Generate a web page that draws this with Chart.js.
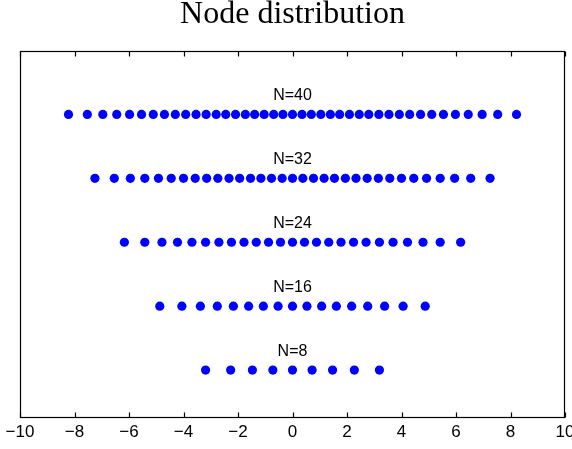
<!DOCTYPE html>
<html><head><meta charset="utf-8">
<script src="https://cdn.jsdelivr.net/npm/chart.js@4.4.1/dist/chart.umd.min.js"></script>
<style>html,body{margin:0;padding:0;background:#fff;}#wrap{width:572px;height:449px;position:relative;overflow:hidden;}</style>
</head><body><div id="wrap"><canvas id="c" width="572" height="449"></canvas></div>
<script>
const rowN = [8, 16, 24, 32, 40];
const rowLabels = ['N=8', 'N=16', 'N=24', 'N=32', 'N=40'];
const nodes8 = [-3.19, -2.27, -1.47, -0.72, 0, 0.72, 1.47, 2.27, 3.19];
const nodes16 = [-4.87, -4.06, -3.38, -2.76, -2.17, -1.61, -1.07, -0.53, 0, 0.53, 1.07, 1.61, 2.17, 2.76, 3.38, 4.06, 4.87];
const nodes24 = [-6.17, -5.42, -4.79, -4.22, -3.69, -3.19, -2.70, -2.24, -1.78, -1.33, -0.88, -0.44, 0,
                 0.44, 0.88, 1.33, 1.78, 2.24, 2.70, 3.19, 3.69, 4.22, 4.79, 5.42, 6.17];
const nodes32 = [-7.25, -6.54, -5.95, -5.42, -4.92, -4.45, -4.00, -3.57, -3.15, -2.74, -2.33, -1.94, -1.54, -1.16, -0.77, -0.38, 0,
                 0.38, 0.77, 1.16, 1.54, 1.94, 2.33, 2.74, 3.15, 3.57, 4.00, 4.45, 4.92, 5.42, 5.95, 6.54, 7.25];
const nodes40 = [-8.22, -7.53, -6.96, -6.45, -5.98, -5.54, -5.11, -4.70, -4.30, -3.92, -3.54, -3.17, -2.80, -2.45, -2.09, -1.73, -1.39, -1.04, -0.69, -0.35, 0,
                 0.35, 0.69, 1.04, 1.39, 1.73, 2.09, 2.45, 2.80, 3.17, 3.54, 3.92, 4.30, 4.70, 5.11, 5.54, 5.98, 6.45, 6.96, 7.53, 8.22];
const allNodes = [nodes8, nodes16, nodes24, nodes32, nodes40];
const xTickValues = [-10, -8, -6, -4, -2, 0, 2, 4, 6, 8, 10];

const datasets = allNodes.map((arr, i) => ({
  label: rowLabels[i],
  data: arr.map(v => ({x: v, y: rowN[i]})),
  backgroundColor: '#0000FF',
  borderColor: '#0000FF',
  borderWidth: 0,
  pointRadius: 4.6,
  showLine: false
}));

const frame = {
  id: 'frame',
  afterDatasetsDraw(chart) {
    const {ctx, chartArea: a, scales: {x, y}} = chart;
    ctx.save();
    ctx.fillStyle = '#000';
    ctx.font = '16px "Liberation Sans", Arial, sans-serif';
    ctx.textAlign = 'center';
    ctx.textBaseline = 'middle';
    rowN.forEach((n, i) => {
      ctx.fillText(rowLabels[i], x.getPixelForValue(0), y.getPixelForValue(n + 2.35));
    });
    ctx.strokeStyle = '#000';
    ctx.lineWidth = 1.2;
    const L = Math.round(a.left) + 0.5, R = Math.round(a.right) - 0.5;
    const T = Math.round(a.top) + 0.5, B = Math.round(a.bottom) - 0.5;
    ctx.strokeRect(L, T, R - L, B - T);
    ctx.beginPath();
    xTickValues.forEach(v => {
      const px = Math.round(x.getPixelForValue(v)) + 0.5;
      ctx.moveTo(px, B); ctx.lineTo(px, B - 5);
      ctx.moveTo(px, T); ctx.lineTo(px, T + 5);
    });
    ctx.stroke();
    ctx.restore();
  }
};

new Chart(document.getElementById('c'), {
  type: 'scatter',
  data: {datasets},
  options: {
    responsive: false,
    animation: false,
    devicePixelRatio: 1,
    layout: {padding: {left: 20, right: 7, top: 0, bottom: 0}},
    plugins: {
      legend: {display: false},
      tooltip: {enabled: false},
      title: {
        display: true,
        text: 'Node distribution',
        color: '#000',
        font: {family: '"Liberation Serif", "Times New Roman", serif', size: 32, weight: 'normal', lineHeight: '30px'},
        padding: {top: 0, bottom: 20.5}
      }
    },
    scales: {
      x: {
        type: 'linear', min: -10, max: 10,
        afterBuildTicks: s => { s.ticks = xTickValues.map(v => ({value: v})); },
        afterFit: s => { s.paddingLeft = 0; s.paddingRight = 0; s.height = 31; },
        ticks: {
          autoSkip: false, maxRotation: 0, minRotation: 0, padding: 4, color: '#000',
          font: {family: '"Liberation Sans", Arial, sans-serif', size: 17},
          callback: v => (v < 0 ? '\u2212' + Math.abs(v) : String(v))
        },
        grid: {display: false, drawTicks: false},
        border: {display: false}
      },
      y: {type: 'linear', min: 2, max: 48, display: false}
    }
  },
  plugins: [frame]
});
</script>
</body></html>
